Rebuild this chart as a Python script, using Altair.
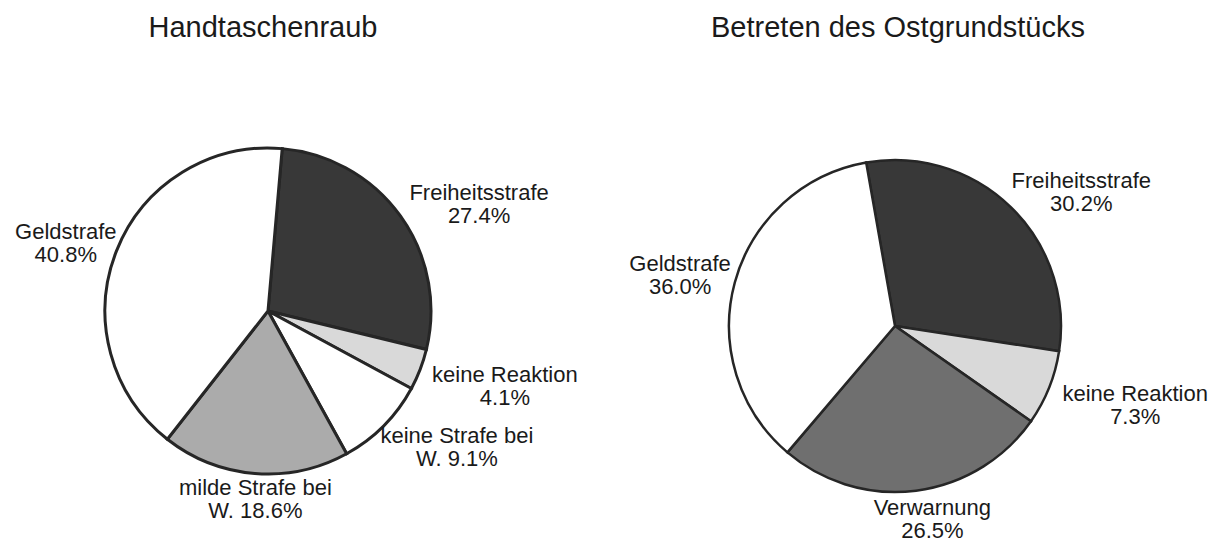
import math
import altair as alt
import pandas as pd

FONT = "Liberation Sans"

# ---- data -------------------------------------------------------------
left_title = "Handtaschenraub"
left_cats = ["Freiheitsstrafe", "keine Reaktion", "keine Strafe bei W.",
             "milde Strafe bei W.", "Geldstrafe"]
left_vals = [27.4, 4.1, 9.1, 18.6, 40.8]

right_title = "Betreten des Ostgrundstücks"
right_cats = ["Freiheitsstrafe", "keine Reaktion", "Verwarnung", "Geldstrafe"]
right_vals = [30.2, 7.3, 26.5, 36.0]

all_cats = ["Freiheitsstrafe", "keine Reaktion", "keine Strafe bei W.",
            "milde Strafe bei W.", "Verwarnung", "Geldstrafe"]
all_colors = ["#383838", "#d9d9d9", "#ffffff", "#ababab", "#6f6f6f", "#ffffff"]

CHAR_W = 9.6  # rough label character width used to push wide labels outward


def label_for(cat, v):
    pct = f"{v:.1f}%"
    if cat.endswith(" W."):
        return cat[:-3] + "\nW. " + pct
    return cat + "\n" + pct


def pie(title, cats, vals, start_deg, radius, r0, width, height, stroke_w, title_dx):
    df = pd.DataFrame({
        "cat": cats,
        "v": vals,
        "idx": list(range(len(cats))),
        "label": [label_for(c, v) for c, v in zip(cats, vals)],
    })
    start = math.radians(start_deg)
    theta_scale = alt.Scale(domain=[0, 100], range=[start, start + 2 * math.pi])
    base = alt.Chart(df)

    arcs = base.mark_arc(radius=radius, stroke="#262626", strokeWidth=stroke_w).encode(
        theta=alt.Theta("v:Q", stack=True, scale=theta_scale),
        color=alt.Color("cat:N", scale=alt.Scale(domain=all_cats, range=all_colors), legend=None),
        order=alt.Order("idx:Q", sort="ascending"),
    )

    # labels outside the pie: pushed out horizontally by half their width,
    # and lifted a little when they sit above the centre
    labels = base.transform_joinaggregate(
        total="sum(v)"
    ).transform_window(
        cum="sum(v)", sort=[alt.SortField("idx", order="ascending")]
    ).transform_calculate(
        a=f"{start} + 2*PI*(datum.cum - datum.v/2)/datum.total",
        hw=f"indexof(datum.label, '\\n') * {CHAR_W} / 2",
        px=f"({r0} + datum.hw) * sin(datum.a) + 8",
        py=f"-{r0} * cos(datum.a) - (cos(datum.a) > 0 ? 14 : 0)",
        lr="sqrt(datum.px*datum.px + datum.py*datum.py)",
        la="atan2(datum.px, -datum.py)",
    ).mark_text(
        font=FONT, fontSize=22, lineHeight=23, lineBreak="\n",
        align="center", baseline="middle", color="#1a1a1a",
    ).encode(
        theta=alt.Theta("la:Q", scale=None),
        radius=alt.Radius("lr:Q", scale=None),
        text="label:N",
    )

    return alt.layer(arcs, labels).properties(
        width=width,
        height=height,
        title=alt.TitleParams(
            text=title, font=FONT, fontSize=29, fontWeight="normal",
            color="#1a1a1a", anchor="middle", frame="group",
            baseline="alphabetic", offset=54, dx=title_dx,
        ),
    )


left = pie(left_title, left_cats, left_vals, 5, 163, 178, 520, 382, 3, -5)
right = pie(right_title, right_cats, right_vals, -10, 166, 183, 560, 412, 2.5, 3)

chart = alt.hconcat(left, right, spacing=87, bounds="flush").resolve_scale(
    theta="independent"
).configure_view(stroke=None).properties(
    padding={"left": 0, "top": 6, "right": 0, "bottom": 0}
)

chart.save("out.html", embed_options={"renderer": "svg", "actions": False})
